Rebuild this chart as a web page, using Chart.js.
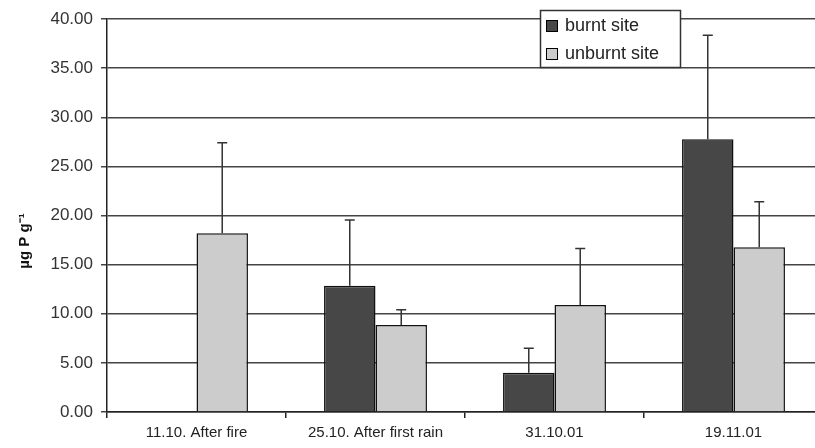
<!DOCTYPE html>
<html>
<head>
    <title>Phosphorus</title>
    <script src="https://cdn.jsdelivr.net/npm/chart.js"></script>
    <style>
        html, body { margin: 0; padding: 0; overflow: hidden; background: #fff; }
        #wrap { width: 824px; height: 448px; }
    </style>
</head>
<body>
    <div id="wrap"><canvas id="pChart" width="824" height="448"></canvas></div>

    <script>
        const categories = ['11.10. After fire', '25.10. After first rain', '31.10.01', '19.11.01'];
        const burnt = [null, 12.85, 4.0, 27.75];
        const burntErr = [null, 6.7, 2.5, 10.6];
        const unburnt = [18.2, 8.85, 10.9, 16.76];
        const unburntErr = [9.2, 1.55, 5.75, 4.65];
        const yTicks = [0, 5, 10, 15, 20, 25, 30, 35, 40];
        const seriesNames = ['burnt site', 'unburnt site'];

        const errs = [burntErr, unburntErr];

        const errorBars = {
            id: 'errorBars',
            afterDatasetsDraw(chart) {
                const ctx = chart.ctx;
                const y = chart.scales.y;
                ctx.save();
                ctx.strokeStyle = '#333';
                ctx.lineWidth = 1.5;
                chart.data.datasets.forEach((ds, i) => {
                    const meta = chart.getDatasetMeta(i);
                    meta.data.forEach((bar, j) => {
                        const v = ds.data[j];
                        const e = errs[i][j];
                        if (v == null || e == null) return;
                        const top = y.getPixelForValue(v + e);
                        ctx.beginPath();
                        ctx.moveTo(bar.x, bar.y);
                        ctx.lineTo(bar.x, top);
                        ctx.moveTo(bar.x - 5, top);
                        ctx.lineTo(bar.x + 5, top);
                        ctx.stroke();
                    });
                });
                ctx.restore();
            }
        };

        const extras = {
            id: 'extras',
            afterDraw(chart) {
                const ctx = chart.ctx;
                ctx.save();
                // legend box
                ctx.fillStyle = '#fff';
                ctx.fillRect(540, 10, 140, 57);
                ctx.strokeStyle = '#333';
                ctx.lineWidth = 1.5;
                ctx.strokeRect(540.5, 10.5, 140, 57);
                ctx.font = '18px "Liberation Sans", Arial, sans-serif';
                ctx.textBaseline = 'middle';
                chart.data.datasets.forEach((ds, i) => {
                    const cy = 25 + i * 28;
                    ctx.fillStyle = ds.backgroundColor;
                    ctx.fillRect(546, cy - 5, 11, 11);
                    ctx.strokeStyle = '#000';
                    ctx.lineWidth = 1;
                    ctx.strokeRect(546.5, cy - 4.5, 11, 11);
                    ctx.fillStyle = '#222';
                    ctx.fillText(ds.label, 565, cy + 1);
                });
                // y title
                ctx.translate(25, 241);
                ctx.rotate(-Math.PI / 2);
                ctx.textAlign = 'center';
                ctx.fillStyle = '#111';
                ctx.font = 'bold 15px "Liberation Sans", Arial, sans-serif';
                ctx.fillText('\u00b5g P g\u207b\u00b9', 0, 0);
                ctx.restore();
            }
        };

        new Chart(document.getElementById('pChart'), {
            type: 'bar',
            data: {
                labels: categories,
                datasets: [
                    { label: seriesNames[0], data: burnt, backgroundColor: '#474747', borderColor: '#111', borderWidth: 1.5 },
                    { label: seriesNames[1], data: unburnt, backgroundColor: '#cccccc', borderColor: '#111', borderWidth: 1.5 }
                ]
            },
            options: {
                responsive: false,
                animation: false,
                layout: { padding: { top: 19, right: 1, left: 0, bottom: 0 } },
                datasets: { bar: { barPercentage: 1, categoryPercentage: 0.575 } },
                plugins: { legend: { display: false }, tooltip: { enabled: false } },
                scales: {
                    x: {
                        grid: { drawOnChartArea: false, color: '#222', lineWidth: 1.5, tickLength: 6 },
                        border: { color: '#222', width: 1.5 },
                        ticks: { color: '#222', font: { family: '"Liberation Sans", Arial', size: 15 }, maxRotation: 0, padding: 6 },
                        afterFit(s) { s.height = 36; }
                    },
                    y: {
                        min: 0, max: 40,
                        afterBuildTicks(s) { s.ticks = yTicks.map(v => ({ value: v })); },
                        grid: { color: '#444', lineWidth: 1.5, tickLength: 6 },
                        border: { color: '#222', width: 1.5 },
                        ticks: { color: '#333', font: { family: '"Liberation Sans", Arial', size: 17 }, padding: 8,
                                 callback: v => v.toFixed(2) },
                        afterFit(s) { s.width = 107; }
                    }
                }
            },
            plugins: [errorBars, extras]
        });
    </script>
</body>
</html>
